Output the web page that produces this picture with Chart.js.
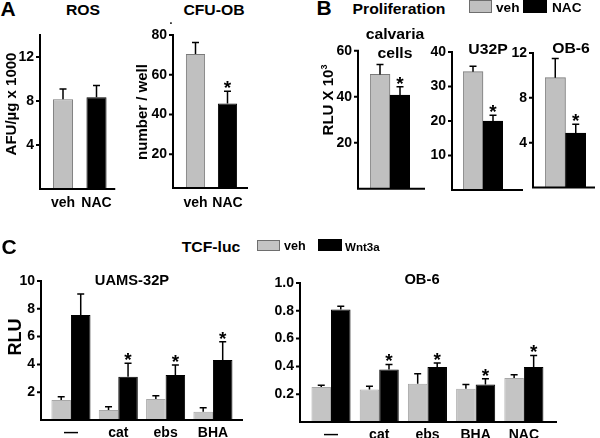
<!DOCTYPE html>
<html>
<head>
<meta charset="utf-8">
<script src="https://cdn.jsdelivr.net/npm/chart.js@4.4.1/dist/chart.umd.min.js"></script>
<style>
body { margin: 0; background: #fff; }
#fig { position: relative; width: 600px; height: 438px; overflow: hidden; background: #fff;
  font-family: "Liberation Sans", Arial, sans-serif; font-weight: bold; color: #000; }
#fig canvas { position: absolute; }
.t { position: absolute; white-space: nowrap; line-height: 1; transform: translate(-50%, -50%) scaleX(1.05); }
.l { position: absolute; white-space: nowrap; line-height: 1; transform-origin: 0 50%; transform: translateY(-50%) scaleX(1.05); }
.r { position: absolute; white-space: nowrap; line-height: 1; transform: translate(-50%, -50%) rotate(-90deg); }
.sw { position: absolute; box-sizing: border-box; }
</style>
</head>
<body>
<div id="fig">
  <canvas id="ros"></canvas>
  <canvas id="cfu"></canvas>
  <canvas id="calv"></canvas>
  <canvas id="u32"></canvas>
  <canvas id="ob6b"></canvas>
  <canvas id="uams"></canvas>
  <canvas id="ob6c"></canvas>

  <div class="t" style="left:8px;top:9px;font-size:20px">A</div>
  <div class="t" style="left:83px;top:9px;font-size:15px">ROS</div>
  <div class="t" style="left:214px;top:9px;font-size:15px">CFU-OB</div>
  <div class="t" style="left:171px;top:21px;font-size:10px">.</div>
  <div class="r" style="left:10px;top:104px;font-size:15px">AFU/µg x 1000</div>
  <div class="r" style="left:141px;top:112px;font-size:15px">number / well</div>

  <div class="t" style="left:324px;top:8px;font-size:20px">B</div>
  <div class="t" style="left:399px;top:8px;font-size:15px">Proliferation</div>
  <div class="sw" style="left:469px;top:0px;width:23px;height:13px;background:#c0c0c0;border:1px solid #6e6e6e"></div>
  <div class="l" style="left:496px;top:7px;font-size:13px">veh</div>
  <div class="sw" style="left:523px;top:0px;width:24px;height:13px;background:#000"></div>
  <div class="l" style="left:552px;top:7px;font-size:13px">NAC</div>
  <div class="t" style="left:395px;top:33px;font-size:15px">calvaria</div>
  <div class="t" style="left:395px;top:52px;font-size:15px">cells</div>
  <div class="t" style="left:488px;top:48px;font-size:15px">U32P</div>
  <div class="t" style="left:571px;top:47px;font-size:15px">OB-6</div>
  <div class="r" style="left:327px;top:100px;font-size:15px">RLU X 10<sup style="font-size:9px">3</sup></div>

  <div class="t" style="left:9px;top:247px;font-size:20px">C</div>
  <div class="t" style="left:211px;top:246px;font-size:15px">TCF-luc</div>
  <div class="sw" style="left:257px;top:240px;width:23px;height:11px;background:#c4c4c4;border:1px solid #6e6e6e"></div>
  <div class="l" style="left:284px;top:246px;font-size:12px">veh</div>
  <div class="sw" style="left:318px;top:239px;width:24px;height:12px;background:#000"></div>
  <div class="l" style="left:345px;top:247px;font-size:11px">Wnt3a</div>
  <div class="t" style="left:132px;top:280px;font-size:14px">UAMS-32P</div>
  <div class="t" style="left:422px;top:279px;font-size:14px">OB-6</div>
  <div class="r" style="left:15px;top:337px;font-size:18px">RLU</div>
</div>

<script>
// ---- data ----
const twoLabels = ['veh', 'NAC'];

const rosValues = [8.15, 8.35];
const rosErr = [0.95, 1.05];
const rosTicks = [4, 8, 12];

const cfuValues = [70.5, 45.5];
const cfuErr = [5.7, 6.2];
const cfuStars = [false, true];
const cfuTicks = [20, 40, 60, 80];

const calvValues = [49.7, 40.7];
const calvErr = [4.3, 3.6];
const calvTicks = [20, 40, 60];

const u32Values = [34.3, 20.0];
const u32Err = [1.6, 1.7];
const u32Ticks = [10, 20, 30, 40];

const ob6bValues = [9.8, 4.85];
const ob6bErr = [1.7, 0.8];
const ob6bTicks = [4, 8, 12];

const bStars = [false, true];

const uamsLabels = ['—', 'cat', 'ebs', 'BHA'];
const uamsVeh = [1.44, 0.72, 1.51, 0.6];
const uamsVehErr = [0.24, 0.24, 0.24, 0.28];
const uamsWnt = [7.55, 3.12, 3.24, 4.32];
const uamsWntErr = [1.51, 0.96, 0.72, 1.31];
const uamsStars = [false, true, true, true];
const uamsTicks = [2, 4, 6, 8, 10];

const ob6cLabels = ['—', 'cat', 'ebs', 'BHA', 'NAC'];
const ob6cVeh = [0.252, 0.233, 0.276, 0.24, 0.316];
const ob6cVehErr = [0.012, 0.024, 0.072, 0.029, 0.024];
const ob6cWnt = [0.81, 0.378, 0.395, 0.269, 0.395];
const ob6cWntErr = [0.023, 0.036, 0.029, 0.043, 0.084];
const ob6cStars = [false, true, true, true, true];
const ob6cTicks = [0.2, 0.4, 0.6, 0.8, 1.0];

const GRAY = '#c0c0c0';
const GRAY_EDGE = '#7a7a7a';

Chart.defaults.font.family = '"Liberation Sans", Arial, sans-serif';
Chart.defaults.font.weight = 'bold';
Chart.defaults.font.size = 14;
Chart.defaults.color = '#000';

// axes, error bars and asterisks
const decor = {
  id: 'decor',
  afterDatasetsDraw(chart, args, o) {
    const ctx = chart.ctx, a = chart.chartArea, y = chart.scales.y;
    const ax = a.left - o.gapL;
    ctx.save();
    ctx.strokeStyle = '#000';
    ctx.lineWidth = 2;
    ctx.beginPath();
    ctx.moveTo(ax, a.top - 1);
    ctx.lineTo(ax, a.bottom);
    ctx.lineTo(a.right + o.gapR, a.bottom);
    y.ticks.forEach(t => {
      const py = y.getPixelForValue(t.value);
      ctx.moveTo(ax - 4, py);
      ctx.lineTo(ax, py);
    });
    ctx.stroke();

    ctx.lineWidth = 1.5;
    ctx.fillStyle = '#000';
    ctx.font = 'bold 19px "Liberation Sans", Arial, sans-serif';
    ctx.textAlign = 'center';
    chart.data.datasets.forEach((ds, di) => {
      const meta = chart.getDatasetMeta(di);
      ds.data.forEach((v, i) => {
        const bar = meta.data[i];
        const top = y.getPixelForValue(v + o.errors[di][i]);
        ctx.beginPath();
        ctx.moveTo(bar.x, bar.y);
        ctx.lineTo(bar.x, top);
        ctx.moveTo(bar.x - 3.5, top);
        ctx.lineTo(bar.x + 3.5, top);
        ctx.stroke();
        if (o.stars && o.stars[di] && o.stars[di][i]) ctx.fillText('*', bar.x, top + 3);
      });
    });
    ctx.restore();
  }
};

const XH = 22;

// axisX = where the y axis line sits; area = plot area [left, top, right, bottom]
// canvas spans from axisX - 42 to area right + room
function build(id, axisX, width, top, height, area, c) {
  const el = document.getElementById(id);
  const bx = axisX - 42;
  const gapL = area[0] - axisX;
  const yw = gapL + 32;
  el.width = width;
  el.height = height;
  el.style.left = bx + 'px';
  el.style.top = top + 'px';
  const pad = {
    left: area[0] - bx - yw,
    top: area[1] - top,
    right: bx + width - area[2],
    bottom: top + height - area[3] - XH
  };
  return new Chart(el, {
    type: 'bar',
    data: { labels: c.labels, datasets: c.datasets },
    options: {
      responsive: false,
      animation: false,
      layout: { padding: pad },
      plugins: {
        legend: { display: false },
        tooltip: { enabled: false },
        decor: { gapL: gapL, gapR: c.gapR, errors: c.errors, stars: c.stars }
      },
      scales: {
        x: {
          offset: true,
          grid: { display: false, drawTicks: false },
          border: { display: false },
          ticks: { display: c.showX, padding: c.xPad || 5, maxRotation: 0, autoSkip: false },
          afterFit: s => { s.height = XH; }
        },
        y: {
          min: c.min, max: c.max,
          grid: { display: false, drawTicks: false },
          border: { display: false },
          ticks: { padding: gapL + 6, callback: v => v.toFixed(c.dec || 0) },
          afterBuildTicks: s => { s.ticks = c.ticks.map(v => ({ value: v })); },
          // keep the plot area where it is: no extra room for label overflow
          afterFit: s => { s.width = yw; s.paddingTop = 0; s.paddingBottom = 0; }
        }
      }
    },
    plugins: [decor]
  });
}

function pair(values, pct) {
  return [{
    data: values,
    backgroundColor: [GRAY, '#000'],
    borderColor: [GRAY_EDGE, '#000'],
    borderWidth: 1,
    categoryPercentage: 1,
    barPercentage: pct
  }];
}

function groups(veh, wnt, pct) {
  return [
    { data: veh, backgroundColor: '#c4c4c4', borderColor: '#a8a8a8', borderWidth: 1, categoryPercentage: pct, barPercentage: 1 },
    { data: wnt, backgroundColor: '#000', borderColor: '#000', borderWidth: 1, categoryPercentage: pct, barPercentage: 1 }
  ];
}

// A
build('ros', 40, 125, 25, 200, [46.25, 35, 113.25, 189], {
  labels: twoLabels, datasets: pair(rosValues, 0.6), min: 0, max: 14, ticks: rosTicks,
  gapR: 2, errors: [rosErr], showX: true, xPad: 6
});
build('cfu', 173, 125, 25, 200, [179.5, 35, 243.5, 188], {
  labels: twoLabels, datasets: pair(cfuValues, 0.6), min: 3, max: 80, ticks: cfuTicks,
  gapR: 4.5, errors: [cfuErr], stars: [cfuStars], showX: true, xPad: 7
});

// B
build('calv', 358, 115, 40, 178, [370, 50.7, 410, 188.7], {
  labels: twoLabels, datasets: pair(calvValues, 1), min: 0, max: 60, ticks: calvTicks,
  gapR: 15, errors: [calvErr], stars: [bStars], showX: false
});
build('u32', 452, 120, 40, 178, [463, 52, 503, 190], {
  labels: twoLabels, datasets: pair(u32Values, 1), min: 0, max: 40, ticks: u32Ticks,
  gapR: 20, errors: [u32Err], stars: [bStars], showX: false
});
build('ob6b', 533, 110, 40, 178, [545, 53, 586, 187.5], {
  labels: twoLabels, datasets: pair(ob6bValues, 1), min: 0, max: 12, ticks: ob6bTicks,
  gapR: 9, errors: [ob6bErr], stars: [bStars], showX: false
});

// C
build('uams', 41, 250, 270, 175, [47.3, 281, 236.6, 420], {
  labels: uamsLabels, datasets: groups(uamsVeh, uamsWnt, 0.825), min: 0, max: 10, ticks: uamsTicks,
  gapR: 6.4, errors: [uamsVehErr, uamsWntErr], stars: [[], uamsStars], showX: true, xPad: 5
});
build('ob6c', 300, 300, 270, 175, [306.9, 283, 548, 422], {
  labels: ob6cLabels, datasets: groups(ob6cVeh, ob6cWnt, 0.81), min: 0, max: 1, ticks: ob6cTicks, dec: 1,
  gapR: 9, errors: [ob6cVehErr, ob6cWntErr], stars: [[], ob6cStars], showX: true, xPad: 5
});
</script>
</body>
</html>
